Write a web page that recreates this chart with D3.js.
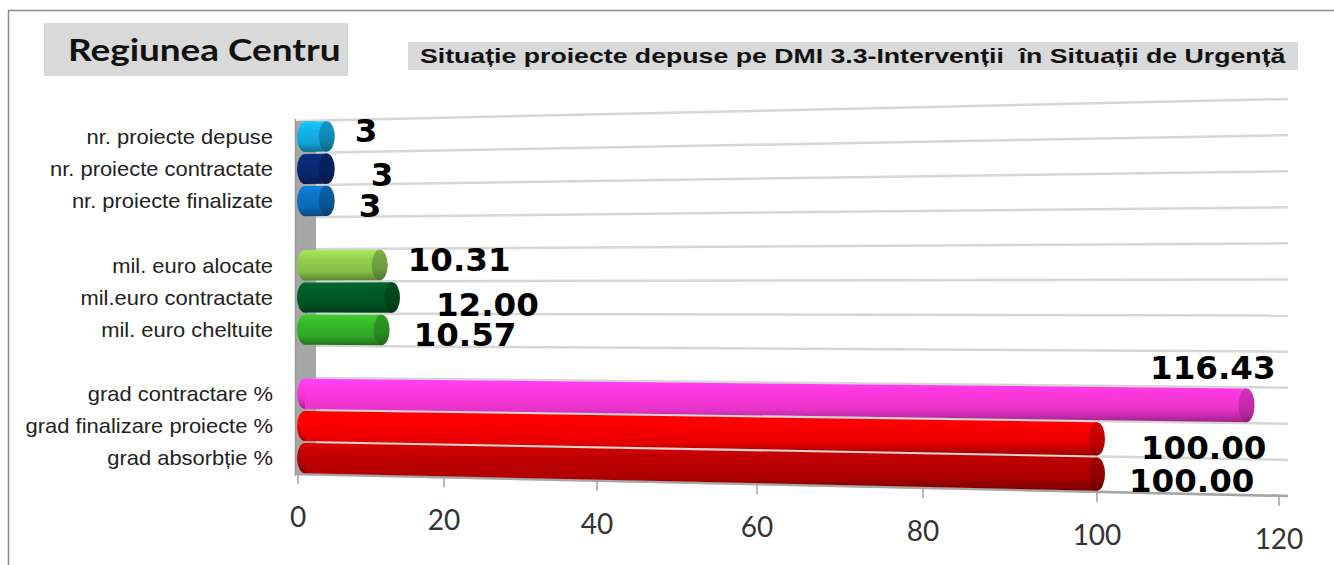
<!DOCTYPE html>
<html><head><meta charset="utf-8">
<script src="https://cdn.jsdelivr.net/npm/d3@7"></script>
<style>
body{margin:0;background:#fff;}
svg{display:block;}
</style></head>
<body><svg id="chart" width="1334" height="565"></svg>
<script>
// ---- data ----
const categories = ["nr. proiecte depuse","nr. proiecte contractate","nr. proiecte finalizate",
  "mil. euro alocate","mil.euro contractate","mil. euro cheltuite",
  "grad contractare %","grad finalizare proiecte %","grad absorbție %"];
const values = [3, 3, 3, 10.31, 12.00, 10.57, 116.43, 100.00, 100.00];
const valueLabels = ["3","3","3","10.31","12.00","10.57","116.43","100.00","100.00"];
const groupOf = [0,0,0,1,1,1,2,2,2];
const tickValues = [0,20,40,60,80,100,120];
const barColors = ["#14b2ec","#0a2a78","#0a74c8","#92d050","#005c26","#36b82a","#ff38de","#ff0000","#c00000"];
const titleText = "Regiunea Centru";
const subtitleText = "Situație proiecte depuse pe DMI 3.3-Intervenții  în Situații de Urgență";

// ---- layout ----
const svg = d3.select("#chart");
svg.append("rect").attr("width",1334).attr("height",565).attr("fill","#fff");

const rowKeys = [];
const posInGroup = [];
categories.forEach((c,i)=>{
  if(i>0 && groupOf[i]!==groupOf[i-1]) rowKeys.push("__gap"+i);
  rowKeys.push(c);
  posInGroup.push(i>0 && groupOf[i]===groupOf[i-1] ? posInGroup[i-1]+1 : 0);
});
const nRows = rowKeys.length;
const rowScale = d3.scaleBand().domain(rowKeys).range([0,nRows]);

const xL = 298, xR = 1288;
const yLeft = d3.scaleLinear().domain([0,nRows]).range([121,474]);
const yRight = d3.scaleLinear().domain([0,nRows]).range([99,496]);
function py(r,x){ const t=(x-xL)/(xR-xL); return yLeft(r)+(yRight(r)-yLeft(r))*t; }

const xAxisScale = d3.scaleLinear().domain(tickValues).range([298,444,597,757,923,1097,1279]);
const barScale = d3.scaleLinear().domain(tickValues).range([305,450,602,761,926,1097,1279]);

// outer frame
svg.append("path").attr("d","M8.5,565 V10.5 H1334").attr("fill","none").attr("stroke","#8c8c8c").attr("stroke-width",1.5);

// title boxes
svg.append("rect").attr("x",44).attr("y",23).attr("width",304).attr("height",53).attr("fill","#d9d9d9");
svg.append("text").attr("transform","translate(68,61) scale(1.19,1)").text(titleText)
  .attr("font-family","Lato, 'Open Sans', sans-serif").attr("font-weight","bold").attr("font-size",31).attr("fill","#111");
svg.append("rect").attr("x",408).attr("y",42).attr("width",890).attr("height",28).attr("fill","#d9d9d9");
svg.append("text").attr("transform","translate(420,63) scale(1.27,1)").text(subtitleText).style("white-space","pre")
  .attr("font-family","'Liberation Sans', Arial, sans-serif").attr("font-weight","bold").attr("font-size",21).attr("fill","#111");

// gridlines
const grid = svg.append("g");
d3.range(nRows+1).forEach(r=>{
  grid.append("line").attr("x1",xL).attr("y1",py(r,xL)).attr("x2",xR).attr("y2",py(r,xR))
    .attr("stroke","#d6d6d6").attr("stroke-width",2.5);
});

// side wall
svg.append("rect").attr("x",296).attr("y",py(0,296)).attr("width",20).attr("height",py(nRows,296)-py(0,296)).attr("fill","#a6a6a6");
svg.append("line").attr("x1",295.5).attr("x2",295.5).attr("y1",py(0,296)-2).attr("y2",py(nRows,296)+2).attr("stroke","#9a9a9a").attr("stroke-width",1.5);

// floor line and ticks
svg.append("line").attr("x1",xL-2).attr("y1",py(nRows,xL-2)).attr("x2",xR).attr("y2",py(nRows,xR))
  .attr("stroke","#a6a6a6").attr("stroke-width",2.5);
const axisG = svg.append("g");
tickValues.forEach(v=>{
  const x = xAxisScale(v), y = py(nRows,x);
  axisG.append("line").attr("x1",x).attr("x2",x).attr("y1",y).attr("y2",y+10).attr("stroke","#a0a0a0").attr("stroke-width",1.5);
  axisG.append("text").attr("x",x).attr("y",y+53).attr("text-anchor","middle").text(d3.format("d")(v))
    .attr("font-family","Lato, 'Open Sans', sans-serif").attr("font-size",28).attr("fill","#333");
});

// gradients
const defs = svg.append("defs");
barColors.forEach((c,i)=>{
  const g = defs.append("linearGradient").attr("id","bg"+i).attr("x1",0).attr("y1",0).attr("x2",0).attr("y2",1);
  const col = d3.color(c);
  [[0,col.brighter(0.35)],[0.3,col],[0.7,col.darker(0.25)],[1,col.darker(1.3)]].forEach(([o,cc])=>
    g.append("stop").attr("offset",o).attr("stop-color",cc.formatHex()));
  const g2 = defs.append("linearGradient").attr("id","cg"+i).attr("x1",0).attr("y1",0).attr("x2",0).attr("y2",1);
  [[0,col.darker(0.5)],[0.6,col.darker(0.8)],[1,col.darker(1.6)]].forEach(([o,cc])=>
    g2.append("stop").attr("offset",o).attr("stop-color",cc.formatHex()));
});

// bars
const pad = 0.03, capRx = 8;
const labelDx = [20, 36, 24], labelDy = [-10, 2, 0]; // label placement by position within group (baseline vs row bottom)
const barsG = svg.append("g");
const labelsG = svg.append("g");
categories.forEach((cat,i)=>{
  const r0 = rowScale(cat)+pad, r1 = rowScale(cat)+rowScale.bandwidth()-pad;
  const x0 = barScale(0), x1 = barScale(values[i]);
  const g = barsG.append("g");
  g.append("ellipse").attr("cx",x0).attr("cy",(py(r0,x0)+py(r1,x0))/2).attr("rx",capRx).attr("ry",(py(r1,x0)-py(r0,x0))/2).attr("fill","url(#bg"+i+")");
  g.append("path").attr("d",`M${x0},${py(r0,x0)}L${x1},${py(r0,x1)}L${x1},${py(r1,x1)}L${x0},${py(r1,x0)}Z`).attr("fill","url(#bg"+i+")");
  g.append("ellipse").attr("cx",x1).attr("cy",(py(r0,x1)+py(r1,x1))/2).attr("rx",capRx).attr("ry",(py(r1,x1)-py(r0,x1))/2).attr("fill","url(#cg"+i+")");

  const capRight = x1+capRx;
  const rBottom = rowScale(cat)+rowScale.bandwidth();
  const rc = rowScale(cat)+rowScale.bandwidth()/2;
  const k = posInGroup[i];
  const t = labelsG.append("text").text(valueLabels[i])
    .attr("font-family","'DejaVu Sans', Verdana, sans-serif").attr("font-weight","bold").attr("font-size",32.5).attr("fill","#000");
  const lx = capRight+labelDx[k];
  t.attr("x",lx).attr("y",py(rBottom,lx)+labelDy[k]);
  const w = t.node().getComputedTextLength();
  if(lx+w > xR){
    t.attr("text-anchor","end").attr("x",capRight+21).attr("y",py(rowScale(cat),capRight)-8);
  }

  svg.append("text").attr("transform",`translate(273,${py(rc,xL)}) scale(1.07,1)`).attr("dy","0.35em").attr("text-anchor","end").text(cat)
    .attr("font-family","'Liberation Sans', Arial, sans-serif").attr("font-size",20.5).attr("fill","#222");
});
</script>
</body></html>
